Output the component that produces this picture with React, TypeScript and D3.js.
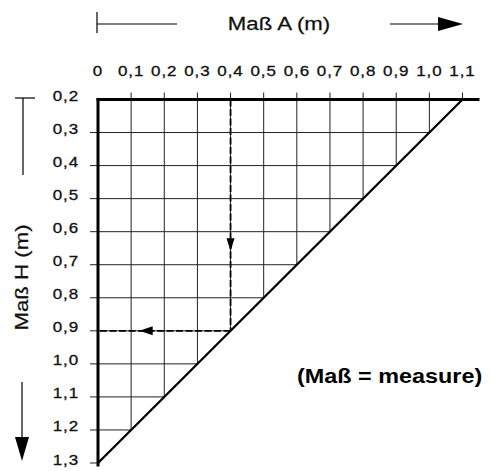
import React from "react";
import * as d3 from "d3";

const aValues = [0, 0.1, 0.2, 0.3, 0.4, 0.5, 0.6, 0.7, 0.8, 0.9, 1.0, 1.1];
const aLabels = ["0", "0,1", "0,2", "0,3", "0,4", "0,5", "0,6", "0,7", "0,8", "0,9", "1,0", "1,1"];
const hValues = [0.2, 0.3, 0.4, 0.5, 0.6, 0.7, 0.8, 0.9, 1.0, 1.1, 1.2, 1.3];
const hLabels = ["0,2", "0,3", "0,4", "0,5", "0,6", "0,7", "0,8", "0,9", "1,0", "1,1", "1,2", "1,3"];
const limitSum = [1.3]; // A + H = 1.3 (diagonal)
const exampleA = [0.4];
const exampleH = [0.9];
const titleA = "Maß A (m)";
const titleH = "Maß H (m)";
const note = "(Maß = measure)";

const W = 491;
const H = 471;
const FONT = "'Liberation Sans', Arial, Helvetica, sans-serif";

export default function App() {
  const x = d3.scaleLinear().domain([0, 1.1]).range([98, 462.5]);
  const y = d3.scaleLinear().domain([0.2, 1.3]).range([99.5, 463]);
  const S = limitSum[0];
  const ex = exampleA[0];
  const eh = exampleH[0];
  const line = d3.line<[number, number]>().x((d) => x(d[0])).y((d) => y(d[1]));

  const sx = 1.17;

  return (
    <svg
      width={W}
      height={H}
      style={{ position: "absolute", left: 0, top: 0, background: "#fff" }}
    >
      {/* header */}
      <g stroke="#000" strokeWidth={1.2}>
        <line x1={97} x2={97} y1={12} y2={33} />
        <line x1={97} x2={177} y1={24} y2={24} />
        <line x1={390} x2={440} y1={24} y2={24} />
      </g>
      <polygon points="438,17 438,31 463,24" fill="#000" />
      <text
        transform={`translate(279,30) scale(${sx},1)`}
        textAnchor="middle"
        fontFamily={FONT}
        fontSize={19}
        fill="#111"
        stroke="#111"
        strokeWidth={0.25}
      >
        {titleA}
      </text>

      {/* left title */}
      <g stroke="#000" strokeWidth={1.2}>
        <line x1={15} x2={35} y1={98} y2={98} />
        <line x1={23} x2={23} y1={98} y2={175} />
        <line x1={22} x2={22} y1={382} y2={440} />
      </g>
      <polygon points="15,437 29,437 22,461" fill="#000" />
      <text
        transform={`translate(28,277.5) rotate(-90) scale(${sx},1)`}
        textAnchor="middle"
        fontFamily={FONT}
        fontSize={19}
        fill="#111"
        stroke="#111"
        strokeWidth={0.25}
      >
        {titleH}
      </text>

      {/* top tick labels */}
      {aValues.map((v, i) => (
        <text
          key={"al" + i}
          transform={`translate(${x(v)},76) scale(${sx},1)`}
          textAnchor="middle"
          fontFamily={FONT}
          fontSize={14.5}
          letterSpacing={0.8}
          fill="#111"
          stroke="#111"
          strokeWidth={0.3}
        >
          {aLabels[i]}
        </text>
      ))}
      {/* left tick labels */}
      {hValues.map((v, i) => (
        <text
          key={"hl" + i}
          transform={`translate(79,${y(v) + 1.5}) scale(${sx},1)`}
          textAnchor="end"
          fontFamily={FONT}
          fontSize={14.5}
          letterSpacing={0.8}
          fill="#111"
          stroke="#111"
          strokeWidth={0.3}
        >
          {hLabels[i]}
        </text>
      ))}

      {/* grid */}
      <g stroke="#222" strokeWidth={1}>
        {aValues
          .filter((v) => v > 0 && v < 1.05)
          .map((v, i) => (
            <line key={"gv" + i} x1={x(v)} x2={x(v)} y1={y(0.2)} y2={y(S - v)} />
          ))}
        {hValues
          .filter((v) => v > 0.25 && v < 1.25)
          .map((v, i) => (
            <line key={"gh" + i} x1={x(0)} x2={x(S - v)} y1={y(v)} y2={y(v)} />
          ))}
        {/* ticks */}
        {aValues
          .filter((v) => v > 0)
          .map((v, i) => (
            <line key={"ta" + i} x1={x(v)} x2={x(v)} y1={y(0.2) - 7} y2={y(0.2)} />
          ))}
        {hValues
          .filter((v) => v > 0.25)
          .map((v, i) => (
            <line key={"th" + i} x1={x(0) - 8} x2={x(0)} y1={y(v)} y2={y(v)} />
          ))}
      </g>

      {/* example dashed path */}
      <g stroke="#000" strokeWidth={1.8} strokeDasharray="7,2.5" fill="none">
        <path d={line([[ex, 0.2], [ex, S - ex]]) || ""} />
        <path d={line([[ex, eh], [0, eh]]) || ""} />
      </g>
      <polygon
        points={`${x(ex) - 4},${y(0.65) - 10} ${x(ex) + 4},${y(0.65) - 10} ${x(ex)},${y(0.65) + 3}`}
        fill="#000"
      />
      <polygon
        points={`${x(0.125)},${y(eh)} ${x(0.165)},${y(eh) - 4.5} ${x(0.165)},${y(eh) + 4.5}`}
        fill="#000"
      />

      {/* frame */}
      <g stroke="#000" fill="none" strokeLinecap="square">
        <line x1={x(0)} x2={478} y1={y(0.2)} y2={y(0.2)} strokeWidth={3} />
        <line x1={x(0)} x2={x(0)} y1={y(0.2)} y2={y(1.3) + 2} strokeWidth={3} />
        <path d={line([[0, S], [S - 0.2, 0.2]]) || ""} strokeWidth={2.3} strokeLinecap="butt" />
      </g>

      {/* note */}
      <text
        transform={`translate(297,383) scale(${sx},1)`}
        fontFamily={FONT}
        fontSize={20}
        fontWeight="bold"
        fill="#000"
      >
        {note}
      </text>
    </svg>
  );
}
